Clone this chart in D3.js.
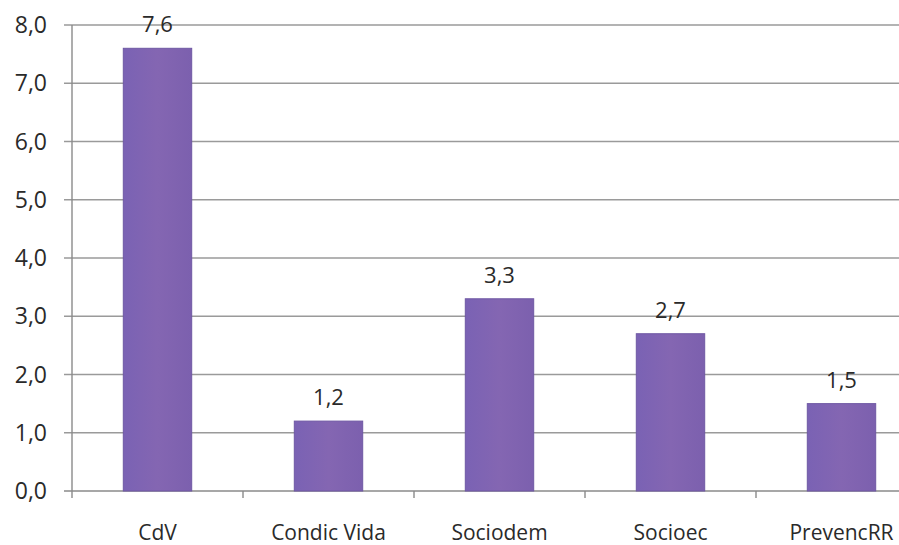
<!DOCTYPE html>
<html>
<head>
<meta charset="utf-8">
<script src="https://cdn.jsdelivr.net/npm/d3@7"></script>
<style>
  body { margin: 0; background: #fff; }
  svg { display: block; }
  text { font-family: "Open Sans", "DejaVu Sans", sans-serif; fill: #2a2a2a; }
</style>
</head>
<body>
<svg id="chart"></svg>
<script>
// data
var categories = ["CdV", "Condic Vida", "Sociodem", "Socioec", "PrevencRR"];
var values = [7.6, 1.2, 3.3, 2.7, 1.5];
var yTicks = [0, 1, 2, 3, 4, 5, 6, 7, 8];

var width = 899
  , height = 545
  , plotLeft = 72
  , plotTop = 25
  , plotBottom = 491
  , band = 171;

var svg = d3.select("#chart")
    .attr("width", width)
    .attr("height", height);

// the original plot is cut off on the right side
var x = d3.scaleBand()
    .domain(categories)
    .range([plotLeft, plotLeft + band * categories.length])
    .paddingInner(0.6)
    .paddingOuter(0.3);

var y = d3.scaleLinear()
    .domain([0, 8])
    .range([plotBottom, plotTop]);

var fmt = function(v){ return d3.format(".1f")(v).replace(".", ","); };

// gridlines
svg.append("g")
    .selectAll("line")
    .data(yTicks)
   .enter().append("line")
    .attr("x1", plotLeft - 8)
    .attr("x2", width)
    .attr("y1", function(d){ return y(d); })
    .attr("y2", function(d){ return y(d); })
    .attr("stroke", function(d){ return d === 0 ? "#8a8a8a" : "#9a9a9a"; })
    .attr("stroke-width", 1.4);

// y axis line
svg.append("line")
    .attr("x1", plotLeft).attr("x2", plotLeft)
    .attr("y1", plotTop).attr("y2", plotBottom)
    .attr("stroke", "#8a8a8a")
    .attr("stroke-width", 1.4);

// y labels
svg.append("g")
    .selectAll("text")
    .data(yTicks)
   .enter().append("text")
    .attr("x", plotLeft - 25)
    .attr("y", function(d){ return y(d) + 8; })
    .attr("text-anchor", "end")
    .style("font-size", "23px")
    .text(fmt);

// x category tick marks between bands
var bounds = d3.range(categories.length + 1).map(function(i){ return plotLeft + i * band; });
svg.append("g")
    .selectAll("line")
    .data(bounds)
   .enter().append("line")
    .attr("x1", function(d){ return d; })
    .attr("x2", function(d){ return d; })
    .attr("y1", plotBottom)
    .attr("y2", plotBottom + 7)
    .attr("stroke", "#8a8a8a")
    .attr("stroke-width", 1.4);

// bar gradient
var grad = svg.append("defs").append("linearGradient")
    .attr("id", "barGrad")
    .attr("x1", "0%").attr("x2", "100%");
grad.append("stop").attr("offset", "0%").attr("stop-color", "#7a62b4");
grad.append("stop").attr("offset", "50%").attr("stop-color", "#8466b2");
grad.append("stop").attr("offset", "100%").attr("stop-color", "#7c60ae");

svg.append("g")
    .selectAll("rect")
    .data(values)
   .enter().append("rect")
    .attr("x", function(d, i){ return x(categories[i]); })
    .attr("y", function(d){ return y(d); })
    .attr("width", x.bandwidth())
    .attr("height", function(d){ return y(0) - y(d); })
    .attr("fill", "url(#barGrad)")
    .attr("stroke", "#6f58a3")
    .attr("stroke-width", 1);

// value labels
svg.append("g")
    .selectAll("text")
    .data(values)
   .enter().append("text")
    .attr("x", function(d, i){ return x(categories[i]) + x.bandwidth() / 2; })
    .attr("y", function(d){ return y(d) - 16; })
    .attr("text-anchor", "middle")
    .style("font-size", "22px")
    .text(fmt);

// category labels
svg.append("g")
    .selectAll("text")
    .data(categories)
   .enter().append("text")
    .attr("x", function(d){ return x(d) + x.bandwidth() / 2; })
    .attr("y", 540)
    .attr("text-anchor", "middle")
    .style("font-size", "21px")
    .text(function(d){ return d; });
</script>
</body>
</html>
